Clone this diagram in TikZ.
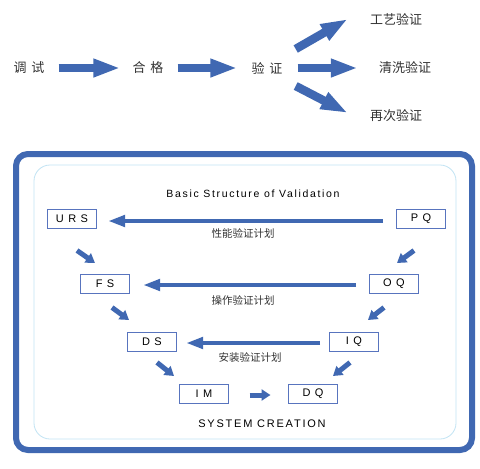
\documentclass[tikz,border=0pt]{standalone}
\usepackage{fontspec}
\setmainfont{Liberation Sans}
\newfontfamily\cjk{Noto Sans CJK SC}
\newfontfamily\spaziata[LetterSpace=40]{Liberation Sans}
\newfontfamily\titolo[LetterSpace=16]{Liberation Sans}
\usetikzlibrary{arrows.meta,calc}
\definecolor{blu}{HTML}{4068B2}
\definecolor{bordo}{HTML}{5874BE}
\definecolor{celeste}{HTML}{C2E4F4}
\definecolor{grigio}{HTML}{333333}

\begin{document}
\begin{tikzpicture}[x=1pt,y=-1pt,
    grossa/.style={line width=8.5pt,blu,-{Triangle[length=27pt,width=17pt]}},
    media/.style={line width=4.5pt,blu,-{Triangle[length=17pt,width=11pt]}},
    piccola/.style={line width=5pt,blu,-{Triangle[length=9pt,width=11pt]}},
    cinese/.style={inner sep=0pt,text=grigio,font=\cjk\fontsize{13}{13}\selectfont},
    piano/.style={inner sep=0pt,text=grigio,font=\cjk\fontsize{10.5}{10.5}\selectfont},
    casella/.style={draw=bordo,line width=1pt,fill=white,minimum width=49pt,minimum height=19pt,inner sep=0pt,text=black,font=\spaziata\fontsize{11}{11}\selectfont}]
    \useasboundingbox[fill=white] (0,0) rectangle (480,469);

    %fasi in alto
    \node[cinese] (tiaoshi) at (29,68) {调\hspace{5pt}试};
    \node[cinese] (hege) at (148,68) {合\hspace{5pt}格};
    \node[cinese] (yanzheng) at (267,68) {验\hspace{5pt}证};
    \node[cinese] (gongyi) at (396,19) {工艺验证};
    \node[cinese] (qingxi) at (405,68) {清洗验证};
    \node[cinese] (zaici) at (396,116) {再次验证};

    %frecce in alto
    \draw[grossa,shorten <=14pt,shorten >=12pt] (tiaoshi) -- (hege);
    \draw[grossa,shorten <=14pt,shorten >=14pt] (hege) -- (yanzheng);
    \draw[grossa] ($(yanzheng.east)+(13,-19)$) -- ($(gongyi.west)+(-22,0)$);
    \draw[grossa] ($(yanzheng.east)+(15,0)$) -- ($(qingxi.west)+(-21,0)$);
    \draw[grossa] ($(yanzheng.east)+(13,18)$) -- ($(zaici.west)+(-22,-3)$);

    %riquadri
    \draw[blu,line width=6pt,rounded corners=12pt] (16,154) rectangle (472,450);
    \draw[celeste,line width=0.8pt,rounded corners=16pt] (34,165) rectangle (456,439);

    %titoli
    \node[font=\titolo\fontsize{10.5}{10.5}\selectfont,text=black] (struttura) at (253,194) {Basic Structure of Validation};
    \node[font=\titolo\fontsize{11}{11}\selectfont,text=black] (sistema) at (262,424) {SYSTEM CREATION};

    %caselle
    \node[casella] (urs) at (72,219) {URS};
    \node[casella] (pq) at (421,219) {PQ};
    \node[casella] (fs) at (105,284) {FS};
    \node[casella] (oq) at (394,284) {OQ};
    \node[casella] (ds) at (152,342) {DS};
    \node[casella] (iq) at (354,342) {IQ};
    \node[casella] (im) at (204,394) {IM};
    \node[casella] (dq) at (313,394) {DQ};

    %piani di verifica
    \draw[media] ($(pq.west)+(-13,2)$) -- ($(urs.east)+(11,2)$);
    \draw[media] ($(oq.west)+(-13,1)$) -- ($(fs.east)+(13,1)$);
    \draw[media] ($(iq.west)+(-9,1)$) -- ($(ds.east)+(9,1)$);
    \node[piano] (pianopq) at (243,233) {性能验证计划};
    \node[piano] (pianooq) at (243,300) {操作验证计划};
    \node[piano] (pianoiq) at (250,357) {安装验证计划};

    %frecce diagonali
    \draw[piccola] ($(urs.south)+(5,21.5)$) -- ($(fs.north)+(-10,-11)$);
    \draw[piccola] ($(pq.south)+(-7,21.5)$) -- ($(oq.north)+(3,-11)$);
    \draw[piccola] ($(fs.south)+(7,13.5)$) -- ($(ds.north)+(-23,-12)$);
    \draw[piccola] ($(oq.south)+(-10,13.5)$) -- ($(iq.north)+(14,-12)$);
    \draw[piccola] ($(ds.south)+(5,10.5)$) -- ($(im.north)+(-30,-8)$);
    \draw[piccola] ($(iq.south)+(-4,10.5)$) -- ($(dq.north)+(20,-8)$);
    \draw[piccola] ($(im.east)+(20.5,1)$) -- ($(dq.west)+(-17.5,1)$);
\end{tikzpicture}
\end{document}
